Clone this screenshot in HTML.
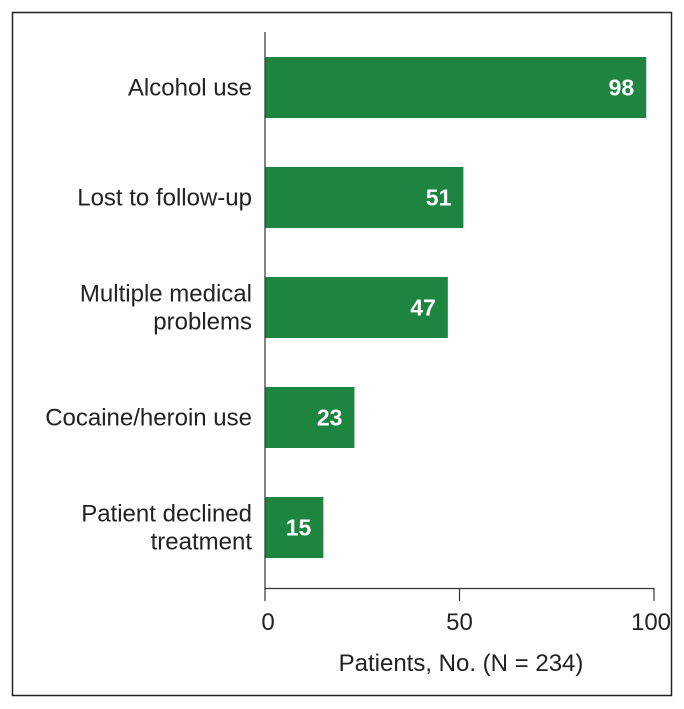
<!DOCTYPE html>
<html><head><meta charset="utf-8"><style>
html,body{margin:0;padding:0;background:#fff;}
svg{display:block;font-family:"Liberation Sans",Arial,sans-serif;}
</style></head><body>
<svg id="chart" width="684" height="709" viewBox="0 0 684 709">
<rect x="12.5" y="12.5" width="659" height="683" fill="none" stroke="#222" stroke-width="1.5"/>
<g id="plot"></g>
</svg>
<script>
const categories=[["Alcohol use"],["Lost to follow-up"],["Multiple medical","problems"],["Cocaine/heroin use"],["Patient declined","treatment"]];
const values=[98,51,47,23,15];
const tickValues=[0,50,100];
const axisTitle="Patients, No. (N = 234)";
const x0=265, scale=3.89, bandTop=32, band=110, barH=61;
const xs=v=>x0+v*scale;
const NS="http://www.w3.org/2000/svg";
const g=document.getElementById('plot');
function mk(t,a){const e=document.createElementNS(NS,t);for(const k in a)e.setAttribute(k,a[k]);g.appendChild(e);return e;}
categories.forEach((c,i)=>{
  const cy=bandTop+band*i+55.5;
  const r=mk('rect',{x:x0,y:cy-barH/2,width:xs(values[i])-x0,height:barH,fill:'#1e8541'});
  
  
  const v=mk('text',{x:xs(values[i])-12,y:cy+8,'text-anchor':'end','font-size':23,'font-weight':'bold',fill:'#fff'});
  v.textContent=values[i];
  
  
  const t=mk('text',{x:252,'text-anchor':'end','font-size':24,fill:'#222'});
  
  
  c.forEach((line,j)=>{const s=document.createElementNS(NS,'tspan');s.setAttribute('x',252);s.setAttribute('y',cy+8+(j-(c.length-1)/2)*28);s.textContent=line;t.appendChild(s);});
});
const ya=mk('line',{x1:x0,y1:32,x2:x0,y2:588.5,stroke:'#333','stroke-width':1.2});


const xa=mk('line',{x1:x0,y1:588.5,x2:xs(100),y2:588.5,stroke:'#333','stroke-width':1.2});


tickValues.forEach(t=>{
  const l=mk('line',{x1:xs(t),y1:588,x2:xs(t),y2:601,stroke:'#333','stroke-width':1.2});
  
  
  const tx=mk('text',{x:xs(t)+(t===100?-3:t===0?3:0),y:630,'text-anchor':'middle','font-size':24,fill:'#222'});
  tx.textContent=t;
  
  
});
const at=mk('text',{x:461,y:671,'text-anchor':'middle','font-size':24,fill:'#222'});
at.textContent=axisTitle;


</script>
</body></html>
